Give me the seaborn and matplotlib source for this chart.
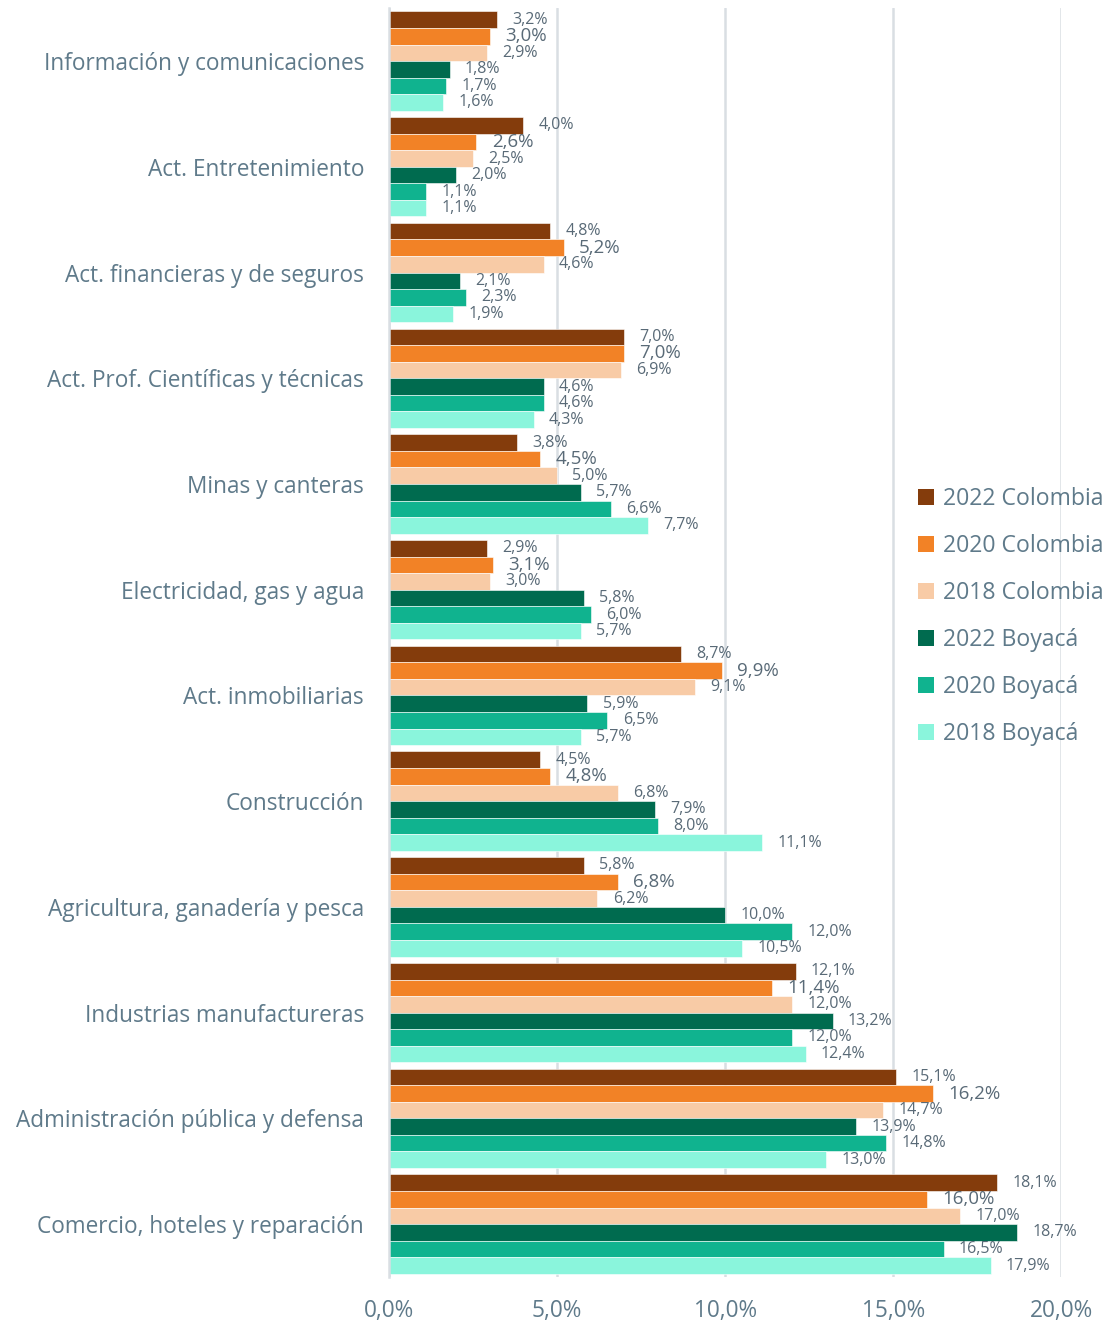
import pandas as pd
import numpy as np
import matplotlib
matplotlib.use("Agg")
import matplotlib.pyplot as plt
import seaborn as sns
from matplotlib.patches import Patch

# Data
categories = [
    "Información y comunicaciones",
    "Act. Entretenimiento",
    "Act. financieras y de seguros",
    "Act. Prof. Científicas y técnicas",
    "Minas y canteras",
    "Electricidad, gas y agua",
    "Act. inmobiliarias",
    "Construcción",
    "Agricultura, ganadería y pesca",
    "Industrias manufactureras",
    "Administración pública y defensa",
    "Comercio, hoteles y reparación",
]
series = ["2022 Colombia", "2020 Colombia", "2018 Colombia",
          "2022 Boyacá", "2020 Boyacá", "2018 Boyacá"]

col_2022 = [3.2, 4.0, 4.8, 7.0, 3.8, 2.9, 8.7, 4.5, 5.8, 12.1, 15.1, 18.1]
col_2020 = [3.0, 2.6, 5.2, 7.0, 4.5, 3.1, 9.9, 4.8, 6.8, 11.4, 16.2, 16.0]
col_2018 = [2.9, 2.5, 4.6, 6.9, 5.0, 3.0, 9.1, 6.8, 6.2, 12.0, 14.7, 17.0]
boy_2022 = [1.8, 2.0, 2.1, 4.6, 5.7, 5.8, 5.9, 7.9, 10.0, 13.2, 13.9, 18.7]
boy_2020 = [1.7, 1.1, 2.3, 4.6, 6.6, 6.0, 6.5, 8.0, 12.0, 12.0, 14.8, 16.5]
boy_2018 = [1.6, 1.1, 1.9, 4.3, 7.7, 5.7, 5.7, 11.1, 10.5, 12.4, 13.0, 17.9]

colors = ["#843c0c", "#f28226", "#f8cba6", "#006b4f", "#10b38f", "#8af5dc"]

values = [col_2022, col_2020, col_2018, boy_2022, boy_2020, boy_2018]
rows = []
for s, vals in zip(series, values):
    for c, v in zip(categories, vals):
        rows.append({"cat": c, "serie": s, "valor": v})
df = pd.DataFrame(rows)

sns.set_style("white")
plt.rcParams['font.family'] = ['Open Sans', 'DejaVu Sans']
text_col = "#5f7a8a"
lab_col = "#596a77"

fig = plt.figure(figsize=(11.1, 13.23), dpi=100)
ax = fig.add_axes([0.3505, 0.0348, 0.6055, 0.959])

sns.barplot(data=df, y="cat", x="valor", hue="serie", order=categories,
            hue_order=series, palette=colors, saturation=1, orient="h", width=0.94,
            edgecolor="white", linewidth=0.4, ax=ax, legend=False)

# value labels
for i, cont in enumerate(ax.containers):
    fs = 13.5 if i == 1 else 11.5
    ax.bar_label(cont, labels=[f"{v:.1f}%".replace(".", ",") for v in cont.datavalues],
                 padding=11, fontsize=fs, color=lab_col)

ax.set_xlim(0, 20)
ax.set_xticks([0, 5, 10, 15, 20])
ax.set_xticklabels([f"{t:.1f}%".replace(".", ",") for t in [0, 5, 10, 15, 20]],
                   fontsize=16.3, color=text_col)
ax.tick_params(axis="x", length=0, pad=16)
ax.tick_params(axis="y", length=0, pad=18, labelsize=16.3, labelcolor=text_col)
ax.set_xlabel("")
ax.set_ylabel("")
ax.grid(axis="x", color="#d9dee3", linewidth=1.8, zorder=0)
ax.set_axisbelow(True)
for sp in ["top", "right", "bottom"]:
    ax.spines[sp].set_visible(False)
ax.spines["left"].set_color("#d9dee3")
ax.spines["left"].set_linewidth(1.8)

handles = [Patch(facecolor=c, edgecolor="none") for c in colors]
fig.legend(handles, series, loc="center left", bbox_to_anchor=(0.808, 0.534),
           frameon=False, fontsize=16.6, labelcolor=text_col,
           handlelength=0.7, handleheight=0.7, handletextpad=0.4,
           labelspacing=1.0)

plt.savefig("out.png", dpi=100)
